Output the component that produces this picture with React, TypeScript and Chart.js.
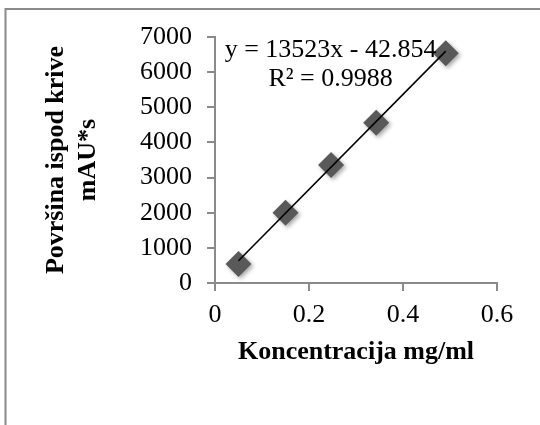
import React, { useEffect, useRef } from "react";
import { Chart, registerables } from "chart.js";

Chart.register(...registerables);

// ---- data ----
const concentrations = [0.05, 0.15, 0.247, 0.343, 0.491];
const areas = [540, 2000, 3360, 4560, 6540];
const xTickValues = [0, 0.2, 0.4, 0.6];
const yTickValues = [0, 1000, 2000, 3000, 4000, 5000, 6000, 7000];
const trendSlope = 13523;
const trendIntercept = -42.854;
const equationLines = ["y = 13523x - 42.854", "R\u00B2 = 0.9988"];
const xTitle = "Koncentracija mg/ml";
const yTitle = ["Povr\u0161ina ispod krive", "mAU*s"];

const FONT = "'Liberation Serif', 'Times New Roman', serif";
const AXIS_GREY = "#8a8a8a";

const frameBorder = {
  id: "frameBorder",
  afterDraw(chart: any) {
    const ctx = chart.ctx;
    ctx.save();
    ctx.strokeStyle = AXIS_GREY;
    ctx.lineWidth = 2;
    ctx.strokeRect(5.5, 9, 800, 800);
    ctx.restore();
  },
};

const markerShadow = {
  id: "markerShadow",
  beforeDatasetDraw(chart: any, args: any) {
    if (args.index !== 0) return;
    const ctx = chart.ctx;
    ctx.save();
    ctx.shadowColor = "rgba(0,0,0,0.35)";
    ctx.shadowBlur = 4;
    ctx.shadowOffsetX = 2;
    ctx.shadowOffsetY = 2;
  },
  afterDatasetDraw(chart: any, args: any) {
    if (args.index !== 0) return;
    chart.ctx.restore();
  },
};

const equationLabel = {
  id: "equationLabel",
  afterDatasetsDraw(chart: any) {
    const { ctx, scales } = chart;
    const cx = scales.x.getPixelForValue(0.246);
    const ys = [6620, 5805].map((v) => scales.y.getPixelForValue(v));
    ctx.save();
    ctx.font = `26px ${FONT}`;
    ctx.fillStyle = "#000";
    ctx.textAlign = "center";
    ctx.textBaseline = "middle";
    equationLines.forEach((t, i) => ctx.fillText(t, cx, ys[i]));
    ctx.restore();
  },
};

export default function App() {
  const ref = useRef<HTMLCanvasElement>(null);

  useEffect(() => {
    if (!ref.current) return;
    const xMin = Math.min(...concentrations);
    const xMax = Math.max(...concentrations);
    const chart = new Chart(ref.current, {
      type: "scatter",
      data: {
        datasets: [
          {
            label: "data",
            data: concentrations.map((x, i) => ({ x, y: areas[i] })),
            pointStyle: "rectRot",
            pointRadius: 13,
            pointHoverRadius: 13,
            backgroundColor: "#595959",
            borderColor: "#595959",
            borderWidth: 0,
            showLine: false,
            order: 2,
          },
          {
            label: "trend",
            type: "line",
            data: [xMin, xMax].map((x) => ({ x, y: trendSlope * x + trendIntercept })),
            borderColor: "#000",
            borderWidth: 1.6,
            pointRadius: 0,
            fill: false,
            order: 1,
          } as any,
        ],
      },
      options: {
        animation: false,
        responsive: true,
        maintainAspectRatio: false,
        layout: { padding: { left: 0, top: 37, right: 43, bottom: 0 } },
        plugins: { legend: { display: false }, tooltip: { enabled: false } },
        scales: {
          x: {
            type: "linear",
            min: 0,
            max: 0.6,
            afterBuildTicks: (s: any) => {
              s.ticks = xTickValues.map((v) => ({ value: v }));
            },
            afterFit: (s: any) => {
              s.height = 142;
            },
            ticks: {
              callback: (v: any) => String(v),
              color: "#000",
              font: { family: FONT, size: 26 },
              padding: 9,
              maxRotation: 0,
            },
            grid: { drawOnChartArea: false, drawTicks: true, tickLength: 8, color: AXIS_GREY, lineWidth: 2 },
            border: { display: true, color: AXIS_GREY, width: 2 },
            title: {
              display: true,
              text: xTitle,
              color: "#000",
              font: { family: FONT, size: 26, weight: "bold" },
              padding: { top: 0, bottom: 57 },
            },
          },
          y: {
            type: "linear",
            min: 0,
            max: 7000,
            afterBuildTicks: (s: any) => {
              s.ticks = yTickValues.map((v) => ({ value: v }));
            },
            afterFit: (s: any) => {
              s.width = 215;
            },
            ticks: {
              callback: (v: any) => String(v),
              color: "#000",
              font: { family: FONT, size: 26 },
              padding: 15,
            },
            grid: { drawOnChartArea: false, drawTicks: true, tickLength: 8, color: AXIS_GREY, lineWidth: 2 },
            border: { display: true, color: AXIS_GREY, width: 2 },
            title: {
              display: true,
              text: yTitle,
              color: "#000",
              font: { family: FONT, size: 26, weight: "bold", lineHeight: 1.2 },
              padding: { top: 41, bottom: 0 },
            },
          },
        },
      },
      plugins: [frameBorder, markerShadow, equationLabel],
    });
    return () => chart.destroy();
  }, []);

  return (
    <div style={{ position: "absolute", left: 0, top: 0, width: 540, height: 425, background: "#fff" }}>
      <canvas ref={ref} />
    </div>
  );
}
